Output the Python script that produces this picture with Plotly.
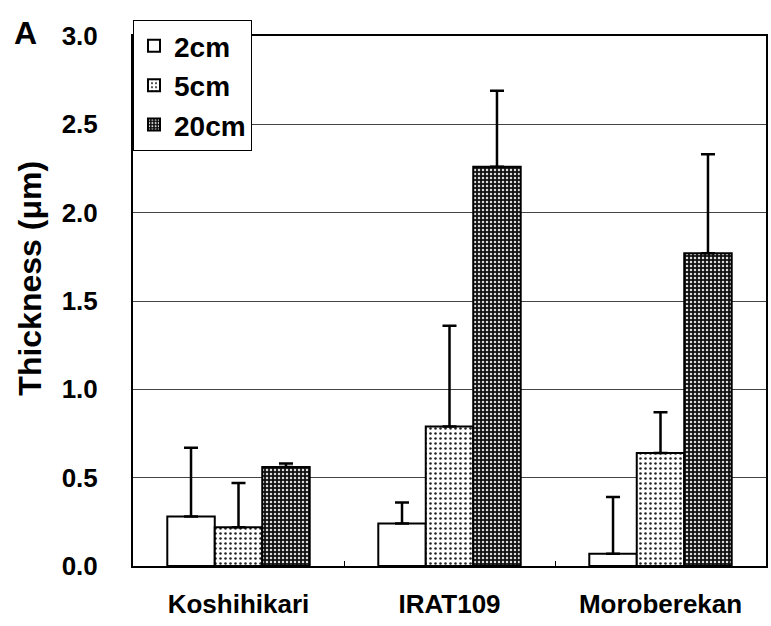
import plotly.graph_objects as go

categories = ["Koshihikari", "IRAT109", "Moroberekan"]
series_names = ["2cm", "5cm", "20cm"]
values_2cm = [0.28, 0.24, 0.07]
values_5cm = [0.22, 0.79, 0.64]
values_20cm = [0.56, 2.26, 1.77]
err_2cm = [0.39, 0.12, 0.32]
err_5cm = [0.25, 0.57, 0.23]
err_20cm = [0.02, 0.43, 0.56]
y_ticks = [0.0, 0.5, 1.0, 1.5, 2.0, 2.5, 3.0]
y_tick_labels = ["0.0", "0.5", "1.0", "1.5", "2.0", "2.5", "3.0"]

FONT = "Liberation Sans, Arial, sans-serif"

patterns = [
    dict(shape="", bgcolor="white"),
    dict(shape=".", fgcolor="#222222", bgcolor="white", size=5, solidity=0.2, fillmode="replace"),
    dict(shape=".", fgcolor="#dddddd", bgcolor="#111111", size=4, solidity=0.3, fillmode="replace"),
]
colors = ["white", "white", "#111111"]

fig = go.Figure()
for name, vals, errs, pat, col in zip(series_names, [values_2cm, values_5cm, values_20cm],
                                      [err_2cm, err_5cm, err_20cm], patterns, colors):
    fig.add_trace(go.Bar(
        x=categories, y=vals, name=name,
        marker=dict(color=col, line=dict(color="black", width=2), pattern=pat),
        error_y=dict(type="data", array=errs, arrayminus=[0] * len(errs), symmetric=False,
                     color="black", thickness=2.5, width=7),
    ))

fig.update_layout(
    width=771, height=626,
    margin=dict(l=133, r=3, t=36, b=60),
    paper_bgcolor="white", plot_bgcolor="white",
    barmode="group", bargap=0.325, bargroupgap=0,
    font=dict(family=FONT, size=26, color="black", weight="bold"),
    showlegend=True,
    legend=dict(x=0, y=1.03, xanchor="left", yanchor="top",
                bgcolor="white", bordercolor="black", borderwidth=1,
                font=dict(family=FONT, size=28, color="black", weight="bold"),
                itemsizing="constant", itemwidth=30),
    xaxis=dict(showline=True, linecolor="black", linewidth=2, mirror=True,
               ticks="inside", tickson="boundaries", ticklen=5, tickcolor="black",
               ticklabelstandoff=14,
               tickfont=dict(family=FONT, size=26, weight="bold"),
               showgrid=False),
    yaxis=dict(range=[0, 3.0], tickvals=y_ticks, ticktext=y_tick_labels,
               showline=True, linecolor="black", linewidth=2, mirror=True,
               showgrid=True, gridcolor="#444444", gridwidth=1,
               ticks="", ticklabelstandoff=28,
               tickfont=dict(family=FONT, size=26, weight="bold")),
    annotations=[
        dict(text="A", xref="paper", yref="paper", x=-0.191, y=1.005,
             xanchor="left", yanchor="middle", showarrow=False,
             font=dict(family=FONT, size=32, weight="bold", color="black")),
        dict(text="Thickness (μm)", xref="paper", yref="paper", x=-0.162, y=0.543,
             xanchor="center", yanchor="middle", textangle=-90, showarrow=False,
             font=dict(family=FONT, size=32, weight="bold", color="black")),
    ],
)

fig.write_html("out.html")
